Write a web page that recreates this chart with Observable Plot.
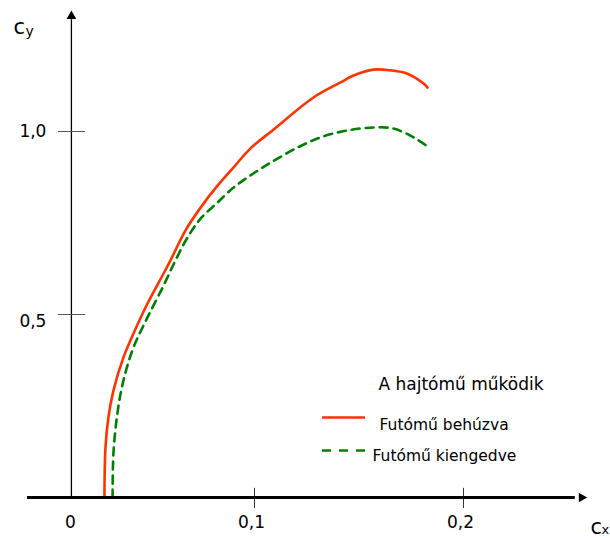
<!DOCTYPE html>
<html>
<head>
<meta charset="utf-8">
<script src="https://cdn.jsdelivr.net/npm/d3@7"></script>
<script src="https://cdn.jsdelivr.net/npm/@observablehq/plot@0.6"></script>
<style>
  html, body { margin: 0; padding: 0; background: #fff; }
  svg { display: block; }
</style>
</head>
<body>
<div id="chart"></div>
<script>
// Series: Futómű behúzva (gear retracted)
const redX = [0.0282, 0.0287, 0.0301, 0.0325, 0.0373, 0.0421, 0.0488, 0.0565, 0.0598, 0.0670, 0.0742, 0.0823, 0.0900, 0.0981, 0.1086, 0.1282, 0.1411, 0.1474, 0.1569, 0.1651, 0.1732, 0.1809, 0.1828];
const redY = [0, 0.137, 0.219, 0.292, 0.383, 0.448, 0.530, 0.612, 0.648, 0.730, 0.792, 0.852, 0.902, 0.954, 1.003, 1.093, 1.134, 1.153, 1.169, 1.167, 1.158, 1.131, 1.120];
// Series: Futómű kiengedve (gear extended)
const greenX = [0.0321, 0.0325, 0.0344, 0.0373, 0.0421, 0.0488, 0.0565, 0.0622, 0.0679, 0.0742, 0.0823, 0.0900, 0.0981, 0.1077, 0.1206, 0.1316, 0.1445, 0.1569, 0.1665, 0.1761, 0.1828];
const greenY = [0, 0.120, 0.230, 0.320, 0.410, 0.492, 0.579, 0.648, 0.710, 0.762, 0.806, 0.847, 0.880, 0.915, 0.956, 0.984, 1.003, 1.011, 1.008, 0.984, 0.959];

const xTicks = [0.1, 0.2];
const xTickLabels = ["0,1", "0,2"];
const yTicks = [0.5, 1.0];
const yTickLabels = ["0,5", "1,0"];
const originLabel = "0";
const legendTitle = "A hajtómű működik";
const seriesNames = ["Futómű behúzva", "Futómű kiengedve"];
const colors = ["#ff3300", "#008000"];

const red = redX.map((x, i) => ({x, y: redY[i]}));
const green = greenX.map((x, i) => ({x, y: greenY[i]}));
const yLabels = yTicks.map((v, i) => ({v, label: yTickLabels[i]}));

const yAxisX = 0.0124;   // where the vertical axis is drawn
const xAxisEnd = 0.2565;
const xAxisStart = -0.0086;
const yAxisTop = 1.315;
const font = "DejaVu Sans, Liberation Sans, Arial, sans-serif";
const px = p => 0.1 + (p - 254) / 2090;

const chart = Plot.plot({
  width: 610,
  height: 538,
  margin: 0,
  style: {fontFamily: font, background: "white"},
  x: {type: "linear", domain: [0.1, 0.2], range: [254, 463], axis: null},
  y: {type: "linear", domain: [0, 1], range: [497, 131], axis: null},
  marks: [
    // y axis
    Plot.ruleX([yAxisX], {y1: 0, y2: yAxisTop - 0.01, stroke: "black", strokeWidth: 1.3}),
    Plot.dot([{x: yAxisX, y: yAxisTop}], {x: "x", y: "y", symbol: "triangle", r: 3.6, fill: "black", stroke: "none"}),
    // y ticks
    Plot.ruleY(yTicks, {x1: px(58), x2: px(85), stroke: "#555", strokeWidth: 1}),
    Plot.text(yLabels.filter(d => d.v === 1), {x: yAxisX, y: "v", text: "label", dx: -38.5, dy: 0, fontSize: 17, fill: "black", textAnchor: "middle"}),
    Plot.text(yLabels.filter(d => d.v === 0.5), {x: yAxisX, y: "v", text: "label", dx: -38.5, dy: 7, fontSize: 17, fill: "black", textAnchor: "middle"}),
    // x ticks
    Plot.ruleX(xTicks, {y1: -0.030, y2: 0.025, stroke: "#333", strokeWidth: 1}),
    Plot.text(xTicks, {x: d => d, y: 0, text: (d, i) => xTickLabels[i], dy: 25.5, dx: -3, fontSize: 17, fill: "black"}),
    Plot.text([originLabel], {x: yAxisX, y: 0, text: d => d, dy: 25.5, dx: -1, fontSize: 17, fill: "black"}),
    // curves
    Plot.line(red, {x: "x", y: "y", stroke: colors[0], strokeWidth: 2.6, curve: "catmull-rom"}),
    Plot.line(green, {x: "x", y: "y", stroke: colors[1], strokeWidth: 2.6, strokeDasharray: "8,6", curve: "catmull-rom"}),
    // x axis
    Plot.ruleY([0], {x1: xAxisStart, x2: xAxisEnd - 0.003, stroke: "black", strokeWidth: 2.8}),
    Plot.dot([{x: xAxisEnd, y: 0}], {x: "x", y: "y", symbol: "triangle", r: 3.6, rotate: 90, fill: "black", stroke: "none"}),
    // axis names
    Plot.text(["c"], {frameAnchor: "top-left", dx: 13, dy: 18.5, fontSize: 21, textAnchor: "start", fill: "black"}),
    Plot.text(["y"], {frameAnchor: "top-left", dx: 25, dy: 26, fontSize: 14, textAnchor: "start", fill: "black"}),
    Plot.text(["c"], {frameAnchor: "top-left", dx: 590, dy: 518.5, fontSize: 21, textAnchor: "start", fill: "black"}),
    Plot.text(["x"], {frameAnchor: "top-left", dx: 601, dy: 524.5, fontSize: 13, textAnchor: "start", fill: "black"}),
    // legend
    Plot.text([legendTitle], {frameAnchor: "top-left", dx: 378, dy: 377.5, fontSize: 17, textAnchor: "start", fill: "black"}),
    Plot.ruleY([0], {x1: px(322), x2: px(365), dy: -(497 - 417), stroke: colors[0], strokeWidth: 2.6}),
    Plot.text([seriesNames[0]], {frameAnchor: "top-left", dx: 379, dy: 418, fontSize: 15.5, textAnchor: "start", fill: "black"}),
    Plot.ruleY([0], {x1: px(322), x2: px(365), dy: -(497 - 450), stroke: colors[1], strokeWidth: 2.6, strokeDasharray: "9,8"}),
    Plot.text([seriesNames[1]], {frameAnchor: "top-left", dx: 372, dy: 449, fontSize: 15.5, textAnchor: "start", fill: "black"})
  ]
});
document.getElementById("chart").appendChild(chart);
</script>
</body>
</html>
